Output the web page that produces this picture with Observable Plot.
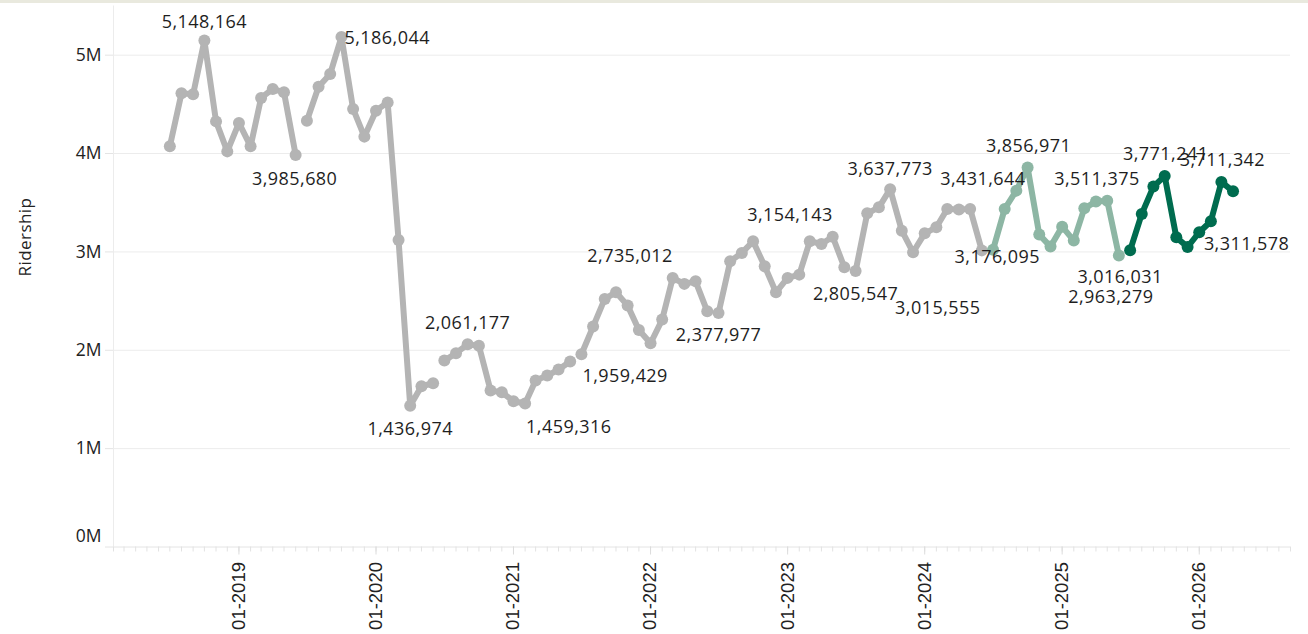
<!DOCTYPE html>
<html>
<head>
<meta charset="utf-8">
<script src="https://cdn.jsdelivr.net/npm/d3@7"></script>
<script src="https://cdn.jsdelivr.net/npm/@observablehq/plot@0.6"></script>
<style>
  html, body { margin: 0; padding: 0; background: #fff; }
  #wrap { position: relative; width: 1308px; height: 634px; overflow: hidden; }
  #topbar { position: absolute; left: 0; top: 0; width: 1308px; height: 3px; background: #e9e9de; }
  svg g[aria-label="text"] text { letter-spacing: 0.45px; }
</style>
</head>
<body>
<div id="wrap"><div id="topbar"></div></div>
<script>
// Fiscal years run July–June; each array starts in July.
const fiscalYears = ["FY2019", "FY2020", "FY2021", "FY2022", "FY2023", "FY2024", "FY2025", "FY2026"];
const fy2019 = [4073000, 4612000, 4602000, 5148164, 4327000, 4022000, 4311000, 4073000, 4565000, 4657000, 4622000, 3985680];
const fy2020 = [4334000, 4680000, 4809000, 5186044, 4453000, 4172000, 4436000, 4520000, 3120000, 1436974, 1634000, 1665000];
const fy2021 = [1895000, 1970000, 2061177, 2045000, 1590000, 1573000, 1482000, 1459316, 1692000, 1743000, 1804000, 1885000];
const fy2022 = [1959429, 2241000, 2522000, 2589000, 2454000, 2207000, 2071000, 2312000, 2735012, 2675000, 2701000, 2396000];
const fy2023 = [2377977, 2904000, 2990000, 3108000, 2854000, 2589000, 2736000, 2769000, 3108000, 3081000, 3154143, 2844000];
const fy2024 = [2805547, 3392000, 3453000, 3637773, 3216000, 2996000, 3189000, 3250000, 3437000, 3431644, 3437000, 3015555];
const fy2025 = [3023000, 3437000, 3623000, 3856971, 3176095, 3054000, 3257000, 3115000, 3443000, 3511375, 3521000, 2963279];
const fy2026 = [3016031, 3386000, 3664000, 3771241, 3148000, 3050000, 3200000, 3311578, 3711342, 3616000];
const fyValues = [fy2019, fy2020, fy2021, fy2022, fy2023, fy2024, fy2025, fy2026];

const periods = ["Earlier", "FY2025", "FY2026"];
const periodColors = ["#b4b4b4", "#8db6a4", "#006c4f"];

const yTicks = [0, 1000000, 2000000, 3000000, 4000000, 5000000];
const xTickYears = [2019, 2020, 2021, 2022, 2023, 2024, 2025, 2026];

// labelled months with placement (anchor, dx, dy) – styling only
const labelPlacement = [
  ["2018-10", "middle", 0, -18],
  ["2019-06", "middle", -1, 24],
  ["2019-10", "start", 3, 1],
  ["2020-04", "middle", 0, 24],
  ["2020-09", "middle", 0, -21],
  ["2021-02", "start", 1, 24],
  ["2021-07", "start", 1, 22],
  ["2022-03", "end", 0, -22],
  ["2022-07", "middle", 0, 22],
  ["2023-05", "end", 0, -22],
  ["2023-07", "middle", 0, 23],
  ["2023-10", "middle", 0, -20],
  ["2024-04", "middle", 24, -30],
  ["2024-06", "middle", -44, 58],
  ["2024-10", "middle", 1, -21],
  ["2024-11", "middle", -42, 23],
  ["2025-04", "middle", 1, -22],
  ["2025-06", "middle", -8, 42],
  ["2025-07", "middle", -10, 27],
  ["2025-10", "middle", 1, -22],
  ["2026-02", "start", -7, 23],
  ["2026-03", "middle", 1, -22]
];

// build table
const data = [];
fiscalYears.forEach((fy, i) => {
  const fyNum = +fy.slice(2);
  fyValues[i].forEach((v, m) => {
    const date = new Date(Date.UTC(fyNum - 1, 6 + m, 1));
    data.push({
      fy, date, value: v,
      key: d3.utcFormat("%Y-%m")(date),
      period: fyNum < 2025 ? "Earlier" : fy
    });
  });
});
const byKey = new Map(data.map(d => [d.key, d]));

const xDomain = [new Date(Date.UTC(2018, 1, 1)), new Date(Date.UTC(2026, 8, 1))];
const monthTicks = d3.utcMonth.range(xDomain[0], new Date(Date.UTC(2026, 8, 2)));
const yearTicks = xTickYears.map(y => new Date(Date.UTC(y, 0, 1)));

const fmt = d3.format(",");
const labelFont = "'Open Sans', sans-serif";
const mFmt = d => d / 1e6 + "M";

const labelMarks = labelPlacement.map(([k, anchor, dx, dy]) =>
  Plot.text([byKey.get(k)], {
    x: "date", y: "value", text: d => fmt(d.value),
    textAnchor: anchor, dx, dy,
    fontSize: 18, fontFamily: labelFont, fill: "#1e1e1e"
  })
);

const chart = Plot.plot({
  width: 1308,
  height: 634,
  marginLeft: 113,
  marginRight: 18,
  marginTop: 5.5,
  marginBottom: 87.5,
  style: { fontFamily: labelFont, color: "#222", background: "transparent" },
  x: { type: "utc", domain: xDomain, axis: null },
  y: { domain: [0, 5500000], axis: null },
  color: { domain: periods, range: periodColors },
  marks: [
    Plot.gridY(yTicks.slice(1), { stroke: "#ececec", strokeOpacity: 1 }),
    Plot.ruleX([xDomain[0]], { stroke: "#ececec" }),
    Plot.ruleY([0], { stroke: "#e4e4e4" }),
    Plot.axisY({ ticks: yTicks.slice(1), tickSize: 8, tickPadding: 4, tickFormat: mFmt, label: null,
      stroke: "#e4e4e4", color: "#222", fontSize: 17.5 }),
    Plot.axisY({ ticks: [0], tickSize: 8, tickFormat: () => "", label: null, stroke: "#e4e4e4" }),
    Plot.axisY({ ticks: [0], tickSize: 8, tickPadding: 4, tickFormat: mFmt, label: null, dy: -11,
      stroke: "none", color: "#222", fontSize: 17.5 }),
    Plot.axisX({ ticks: monthTicks, tickSize: 5, tickFormat: () => "", label: null, stroke: "#e2e2e2" }),
    Plot.axisX({ ticks: yearTicks, tickFormat: d3.utcFormat("%m-%Y"), tickRotate: -90, tickSize: 8, tickPadding: 7,
      label: null, stroke: "#dcdcdc", color: "#222",
      fontSize: 18.5, fontFamily: "'Liberation Sans', Arial, sans-serif" }),
    Plot.text(["Ridership"], { frameAnchor: "left", dx: -88, rotate: -90, fontSize: 17, fontFamily: labelFont, fill: "#222" }),
    Plot.line(data, { x: "date", y: "value", z: "fy", stroke: "period", strokeWidth: 6, strokeLinejoin: "round", strokeLinecap: "round" }),
    Plot.dot(data, { x: "date", y: "value", fill: "period", r: 6 }),
    ...labelMarks
  ]
});

document.getElementById("wrap").prepend(chart);
</script>
</body>
</html>
